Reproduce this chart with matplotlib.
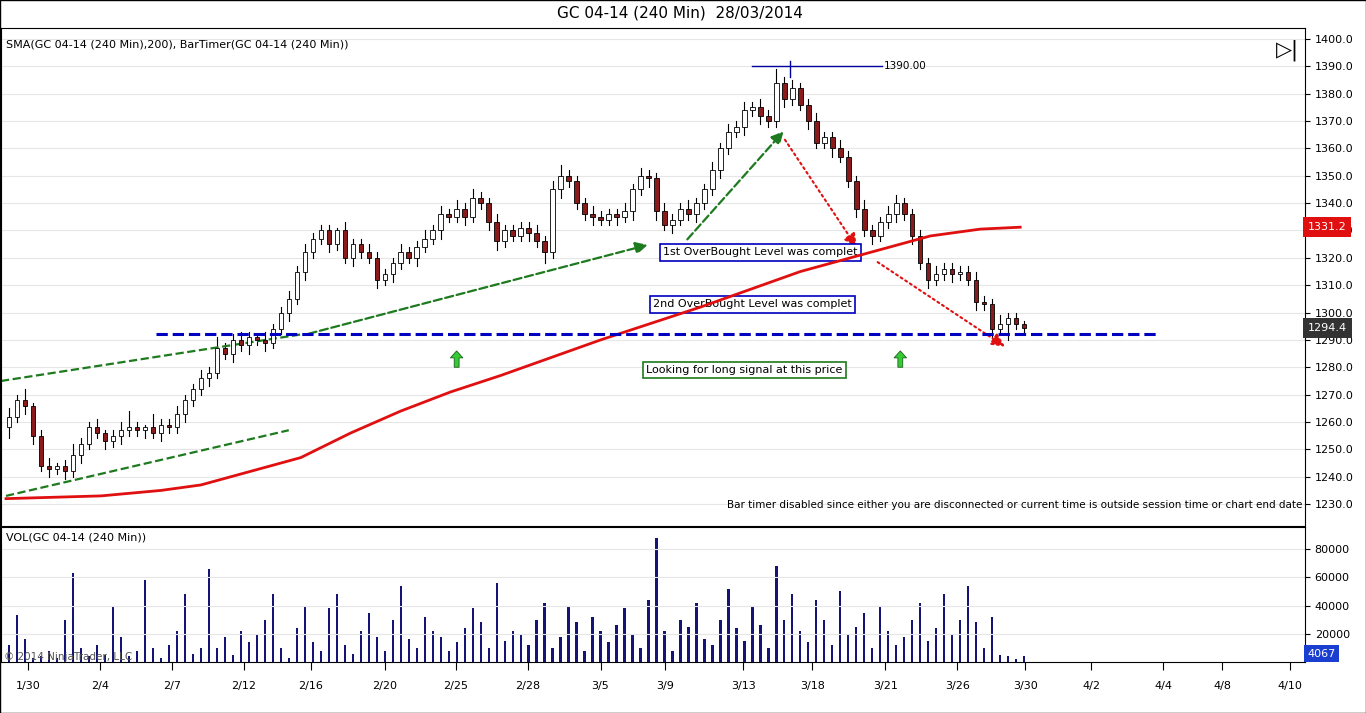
import matplotlib
matplotlib.use("Agg")
import matplotlib.pyplot as plt
import numpy as np

closes = [1262, 1268, 1266, 1255, 1244, 1243, 1244, 1242, 1248, 1252, 1258, 1256, 1253, 1255, 1257, 1258,
          1257, 1258, 1256, 1259, 1258, 1263, 1268, 1272, 1276, 1278, 1287, 1285, 1290, 1288, 1291, 1290,
          1289, 1294, 1300, 1305, 1315, 1322, 1327, 1330, 1325, 1330, 1320, 1325, 1322, 1320, 1312, 1314,
          1318, 1322, 1320, 1324, 1327, 1330, 1336, 1335, 1338, 1335, 1342, 1340, 1333, 1326, 1330, 1328,
          1331, 1329, 1326, 1322, 1345, 1350, 1348, 1340, 1336, 1335, 1334, 1336, 1335, 1337, 1345, 1350,
          1349, 1337, 1332, 1334, 1338, 1336, 1340, 1345, 1352, 1360, 1366, 1368, 1374, 1375, 1372, 1370,
          1384, 1378, 1382, 1376, 1370, 1362, 1364, 1360, 1357, 1348, 1338, 1330, 1328, 1333, 1336, 1340,
          1336, 1328, 1318, 1312, 1314, 1316, 1314, 1315, 1312, 1304, 1303, 1294, 1296, 1298, 1296, 1294.4]
first_open = 1258
wick_up = [3, 2, 4, 1, 2, 3, 1, 2, 4, 2, 2, 3, 1, 2, 3, 6, 2, 1, 5, 2, 2, 3, 2, 2, 3, 2, 4, 2, 2, 3, 2, 1,
           3, 2, 2, 3, 2, 3, 2, 2, 2, 1, 3, 2, 2, 3, 2, 2, 2, 3, 2, 2, 3, 2, 3, 2, 3, 2, 3, 2, 2, 3, 2, 2,
           2, 2, 3, 2, 3, 4, 2, 2, 2, 3, 2, 2, 2, 3, 2, 3, 2, 2, 3, 2, 2, 3, 2, 2, 3, 2, 3, 2, 3, 2, 3, 2,
           5, 2, 3, 2, 2, 3, 2, 2, 3, 2, 2, 3, 2, 2, 3, 3, 2, 2, 2, 2, 3, 2, 2, 2, 2, 3, 2, 2, 3, 2, 2, 1]
wick_dn = [4, 2, 3, 3, 2, 3, 2, 3, 2, 3, 2, 2, 3, 2, 3, 2, 2, 3, 2, 3, 2, 2, 3, 2, 2, 3, 2, 2, 3, 2, 3, 2,
           3, 2, 2, 3, 2, 3, 2, 2, 3, 2, 2, 3, 2, 2, 3, 2, 3, 2, 2, 3, 2, 2, 3, 2, 2, 3, 2, 2, 3, 3, 2, 2,
           2, 3, 2, 4, 2, 3, 2, 2, 2, 3, 2, 2, 3, 2, 3, 2, 3, 3, 2, 3, 2, 2, 3, 2, 2, 3, 2, 2, 3, 2, 3, 2,
           2, 3, 2, 2, 3, 2, 2, 3, 2, 2, 3, 2, 3, 2, 2, 3, 2, 3, 2, 3, 2, 2, 3, 2, 2, 3, 2, 3, 2, 6, 2, 2]
volumes = [12, 33, 16, 3, 4, 8, 3, 30, 63, 10, 4, 12, 5, 40, 18, 4, 8, 58, 10, 3, 12, 22, 48, 6, 10, 66, 10, 18, 5, 22, 14, 20,
           30, 48, 10, 3, 24, 40, 14, 8, 38, 48, 12, 6, 22, 35, 18, 8, 30, 54, 16, 10, 32, 22, 18, 8, 14, 24, 38, 28, 10, 56, 15, 22,
           20, 12, 30, 42, 10, 18, 40, 28, 8, 32, 22, 14, 26, 38, 20, 10, 44, 88, 22, 8, 30, 25, 42, 16, 12, 30, 52, 24, 15, 40, 26, 10,
           68, 30, 48, 22, 14, 44, 30, 12, 50, 20, 25, 35, 10, 40, 22, 12, 18, 30, 42, 15, 24, 48, 20, 30, 54, 28, 10, 32, 5, 4, 2, 4]
sma_x = [5, 100, 160, 200, 250, 300, 350, 400, 450, 500, 600, 700, 800, 860, 930, 980, 1020]
sma_y = [1232, 1233, 1235, 1237, 1242, 1247, 1256, 1264, 1271, 1277, 1290, 1302, 1315, 1321, 1328, 1330.5, 1331.2]
tick_labels = ["1/30", "2/4", "2/7", "2/12", "2/16", "2/20", "2/25", "2/28", "3/5", "3/9", "3/13",
               "3/18", "3/21", "3/26", "3/30", "4/2", "4/4", "4/8", "4/10"]
tick_pos = [27, 99, 171, 243, 310, 384, 455, 527, 600, 665, 743, 812, 885, 957, 1025, 1091, 1163, 1222, 1290]

x = np.arange(len(closes)) * 8 + 8
opens = [first_open] + closes[:-1]

fig = plt.figure(figsize=(13.66, 7.13), dpi=100)
W, H = 1366, 713
ax = fig.add_axes([1 / W, 1 - 526 / H, 1304 / W, 498 / H])
axv = fig.add_axes([1 / W, 1 - 662 / H, 1304 / W, 135 / H], sharex=ax)
fig.text(680 / W, 1 - 13 / H, "GC 04-14 (240 Min)  28/03/2014", ha="center", va="center", fontsize=11)
fig.patches.append(plt.Rectangle((0, 0), 1, 1, transform=fig.transFigure, fill=False, lw=1, ec="black"))

for xi, o, c, hu, hd in zip(x, opens, closes, wick_up, wick_dn):
    hi, lo = max(o, c) + hu, min(o, c) - hd
    ax.plot([xi, xi], [lo, hi], color="black", lw=0.8, zorder=2)
    fc = "white" if c >= o else "#8b1a1a"
    ax.add_patch(plt.Rectangle((xi - 2.2, min(o, c)), 4.4, max(abs(c - o), 0.4), fc=fc, ec="black", lw=0.6, zorder=3))

ax.plot(sma_x, sma_y, color="#e01010", lw=2, zorder=4)
ax.set_xlim(0, 1305)
ax.set_ylim(1222, 1404)
ax.yaxis.tick_right()
ax.set_yticks(np.arange(1230, 1401, 10))
ax.set_yticklabels([f"{v:.1f}" for v in np.arange(1230, 1401, 10)], fontsize=8)
ax.grid(axis="y", color="#e6e6e6", lw=0.8)
ax.tick_params(axis="x", length=0, labelbottom=False)

# trend lines and arrows
ax.plot([0, 300], [1275, 1292], "--", color="#1e7a1e", lw=1.6)
ax.plot([5, 288], [1233, 1257], "--", color="#1e7a1e", lw=1.6)
ax.annotate("", xy=(650, 1325), xytext=(305, 1292),
            arrowprops=dict(arrowstyle="-|>", ls="--", color="#1e7a1e", lw=1.6, mutation_scale=18))
ax.annotate("", xy=(785, 1367), xytext=(685, 1326),
            arrowprops=dict(arrowstyle="-|>", ls="--", color="#1e7a1e", lw=1.6, mutation_scale=18))
ax.annotate("", xy=(858, 1323), xytext=(783, 1364),
            arrowprops=dict(arrowstyle="-|>", ls=":", color="#e01010", lw=1.5, mutation_scale=20))
ax.annotate("", xy=(1007, 1287), xytext=(875, 1319),
            arrowprops=dict(arrowstyle="-|>", ls=":", color="#e01010", lw=1.5, mutation_scale=20))
ax.plot([155, 1160], [1292, 1292], "--", color="#0000c0", lw=2.2, zorder=5)
ax.plot([752, 882], [1390, 1390], color="#0000a0", lw=1)
ax.plot([790, 790], [1386, 1392], color="#0000a0", lw=1)
ax.text(883, 1390, "1390.00", fontsize=7.5, va="center")
for gx in (456, 900):
    ax.annotate("", xy=(gx, 1287), xytext=(gx, 1279),
                arrowprops=dict(arrowstyle="simple,head_width=0.9,tail_width=0.35", fc="#33cc33", ec="#1e5e1e", lw=0.6))

box = dict(boxstyle="square,pad=0.3", fc="white", lw=1.2)
ax.text(760, 1322, "1st OverBought Level was complet", fontsize=8, ha="center", va="center", bbox={**box, "ec": "#0000c0"})
ax.text(752, 1303, "2nd OverBought Level was complet", fontsize=8, ha="center", va="center", bbox={**box, "ec": "#0000c0"})
ax.text(744, 1279, "Looking for long signal at this price", fontsize=8, ha="center", va="center", bbox={**box, "ec": "#1e7a1e"})
ax.text(5, 1398, "SMA(GC 04-14 (240 Min),200), BarTimer(GC 04-14 (240 Min))", fontsize=8, va="center")
ax.text(1302, 1228, "Bar timer disabled since either you are disconnected or current time is outside session time or chart end date",
        fontsize=7.5, ha="right", va="bottom")
ax.text(1276, 1396, "▷|", fontsize=15, va="center")
ylo, yhi = ax.get_ylim()
for val, col in ((1331.2, "#e01010"), (1294.4, "#333333")):
    ax.text(1.002, (val - ylo) / (yhi - ylo), f"{val:.1f}", transform=ax.transAxes, fontsize=8, color="white",
            va="center", zorder=10, bbox=dict(boxstyle="square,pad=0.45", fc=col, ec="none"))

axv.bar(x, np.array(volumes) * 1000, width=2.2, color="#141478")
axv.set_ylim(0, 95600)
axv.yaxis.tick_right()
axv.set_yticks([20000, 40000, 60000, 80000])
axv.set_yticklabels(["20000", "40000", "60000", "80000"], fontsize=8)
axv.grid(axis="y", color="#e6e6e6", lw=0.8)
axv.text(5, 88000, "VOL(GC 04-14 (240 Min))", fontsize=8, va="center")
axv.text(3, 300, "© 2014 NinjaTrader, LLC", fontsize=7.5, color="#555555", va="bottom")
axv.text(1.002, 4067 / 95600 + 0.02, "4067", transform=axv.transAxes, fontsize=8, color="white", va="center",
         bbox=dict(boxstyle="square,pad=0.3", fc="#1a3fd0", ec="none"))
axv.set_xticks(tick_pos)
axv.set_xticklabels(tick_labels, fontsize=8)
axv.tick_params(axis="x", length=6, pad=8)

fig.savefig("out.png", dpi=100)
